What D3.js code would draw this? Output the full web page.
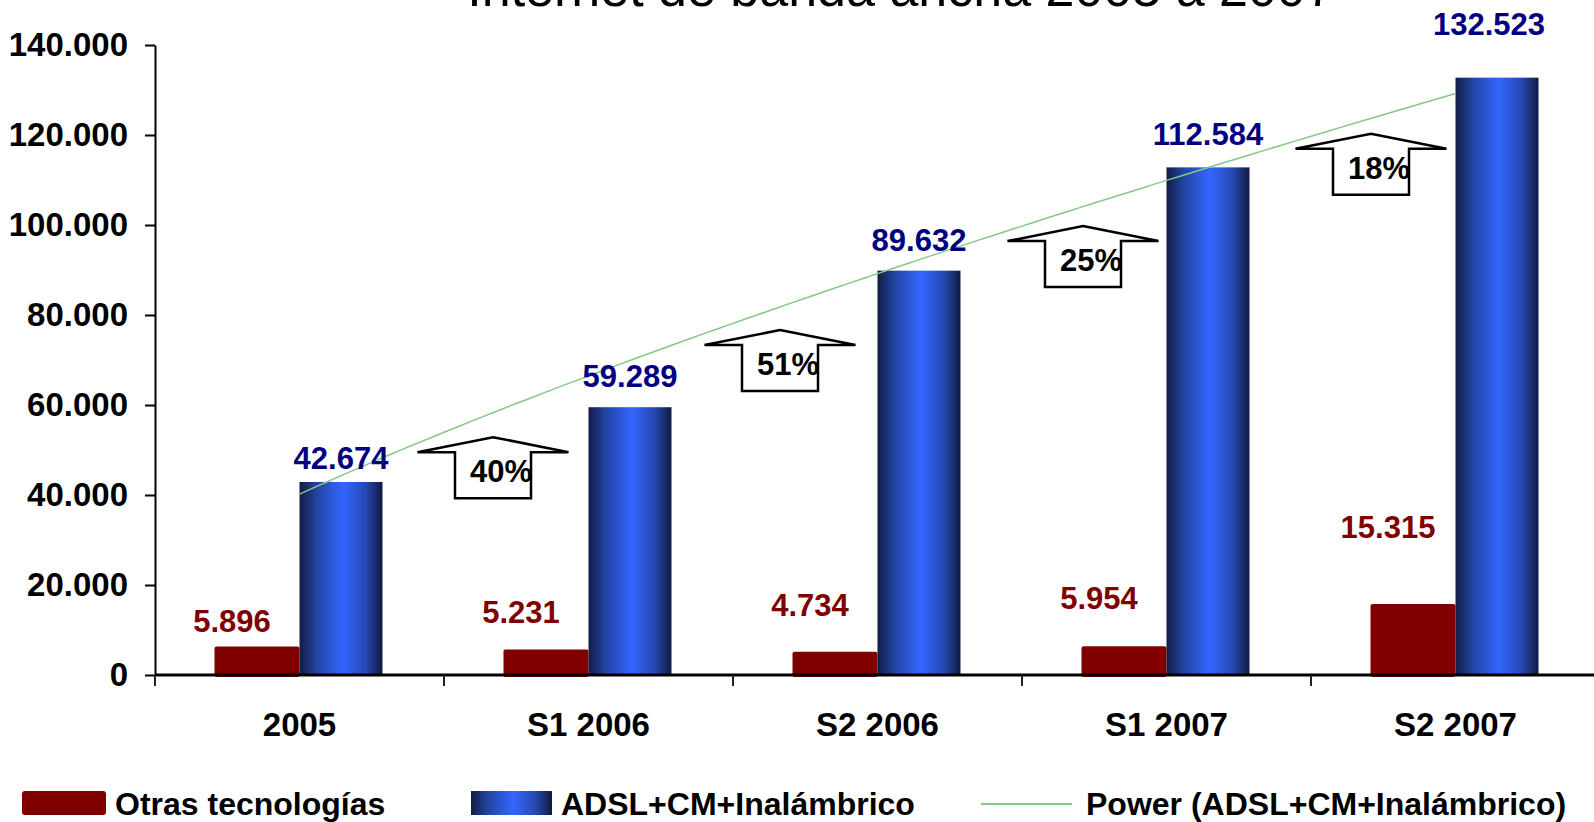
<!DOCTYPE html>
<html>
<head>
<meta charset="utf-8">
<script src="https://cdn.jsdelivr.net/npm/d3@7/dist/d3.min.js"></script>
<style>
  html, body { margin: 0; padding: 0; background: #fff; }
  svg { display: block; font-family: "Liberation Sans", Arial, sans-serif; }
</style>
</head>
<body>
<svg id="chart" width="1594" height="822"></svg>
<script>
// ---------------- DATA ----------------
const title = "Internet de banda ancha 2005 a 2007";
const categories = ["2005", "S1 2006", "S2 2006", "S1 2007", "S2 2007"];
const otrasValues = [5896, 5231, 4734, 5954, 15315];
const adslValues = [42674, 59289, 89632, 112584, 132523];
const seriesNames = ["Otras tecnologías", "ADSL+CM+Inalámbrico", "Power (ADSL+CM+Inalámbrico)"];
const yTicks = [0, 20000, 40000, 60000, 80000, 100000, 120000, 140000];
const growthLabels = ["40%", "51%", "25%", "18%"];

// ---------------- LAYOUT (annotation placement, not data) ----------------
const redLabelDy = [-16, -28, -38, -39, -68];
const blueLabelDy = [-14, -21, -21, -23, -44];
const arrowDx = [49, 47, 61, 60];            // from category boundary
const arrowBaseLevel = [39300, 63100, 86200, 106700]; // y-level of arrow bottom

// ---------------- SETUP ----------------
const svg = d3.select("#chart");
const font = 31;
const locale = d3.formatLocale({ decimal: ",", thousands: ".", grouping: [3], currency: ["", ""] });
const fmt = locale.format(",d");

const x = d3.scaleBand().domain(categories).range([155, 155 + 5 * 289]).padding(0);
const sub = d3.scaleBand().domain(["otras", "adsl"]).range([0, x.bandwidth()]).paddingInner(0).paddingOuter(0.7);
const y = d3.scaleLinear().domain([0, 140000]).range([675, 45]);

// gradient for blue bars
const defs = svg.append("defs");
const grad = defs.append("linearGradient").attr("id", "blueGrad").attr("x1", "0").attr("x2", "1").attr("y1", "0").attr("y2", "0");
grad.append("stop").attr("offset", "0%").attr("stop-color", "#111c45");
grad.append("stop").attr("offset", "20%").attr("stop-color", "#22439f");
grad.append("stop").attr("offset", "52%").attr("stop-color", "#3366ff");
grad.append("stop").attr("offset", "80%").attr("stop-color", "#2548b0");
grad.append("stop").attr("offset", "100%").attr("stop-color", "#101a42");

// title (cut off at the top edge, as in the original)
svg.append("text")
  .attr("x", 901).attr("y", 6)
  .attr("text-anchor", "middle")
  .attr("font-size", 52)
  .attr("fill", "#000")
  .text(title);

// ---------------- TRENDLINE (power fit of ADSL series) ----------------
const lx = adslValues.map((d, i) => Math.log(i + 1));
const ly = adslValues.map(d => Math.log(d));
const mx = d3.mean(lx), my = d3.mean(ly);
const b = d3.sum(lx.map((v, i) => (v - mx) * (ly[i] - my))) / d3.sum(lx.map(v => (v - mx) * (v - mx)));
const a = Math.exp(my - b * mx);
const trendPts = d3.range(1, 5.0001, 0.05).map(t => [t, a * Math.pow(t, b)]);
const xc = t => {
  const c0 = x(categories[0]) + x.bandwidth() / 2;
  return c0 + (t - 1) * x.step();
};

// ---------------- AXES ----------------
const yAxis = d3.axisLeft(y).tickValues(yTicks).tickFormat(fmt).tickSize(10).tickSizeOuter(0).tickPadding(17);
const gy = svg.append("g").attr("transform", "translate(155,0)").call(yAxis);
gy.select(".domain").attr("stroke", "#000").attr("stroke-width", 2);
gy.selectAll(".tick line").attr("stroke", "#000").attr("stroke-width", 2);
gy.selectAll(".tick text").attr("font-size", 33).attr("font-weight", "bold").attr("fill", "#000")
  .attr("font-family", "'Liberation Sans', Arial, sans-serif");

// bars
const g = svg.append("g");
g.selectAll("rect.otras").data(otrasValues).join("rect")
  .attr("class", "otras")
  .attr("x", (d, i) => x(categories[i]) + sub("otras"))
  .attr("y", d => y(d) - 2)
  .attr("width", sub.bandwidth())
  .attr("height", d => y(0) - y(d) + 4)
  .attr("rx", 2)
  .attr("fill", "#800000");

g.selectAll("rect.adsl").data(adslValues).join("rect")
  .attr("class", "adsl")
  .attr("x", (d, i) => x(categories[i]) + sub("adsl"))
  .attr("y", d => y(d) - 1)
  .attr("width", sub.bandwidth() - 2)
  .attr("height", d => y(0) - y(d) + 1)
  .attr("fill", "url(#blueGrad)");

// trendline
svg.append("path")
  .datum(trendPts)
  .attr("d", d3.line().x(d => xc(d[0])).y(d => y(d[1])))
  .attr("fill", "none")
  .attr("stroke", "#84c884")
  .attr("stroke-width", 1.5);

// x axis
svg.append("line")
  .attr("x1", 155).attr("x2", 1594).attr("y1", y(0)).attr("y2", y(0))
  .attr("stroke", "#000").attr("stroke-width", 3);
const boundaries = categories.map(c => x(c)).concat([x(categories[categories.length - 1]) + x.step()]);
svg.selectAll("line.xtick").data(boundaries).join("line")
  .attr("class", "xtick")
  .attr("x1", d => d).attr("x2", d => d)
  .attr("y1", y(0)).attr("y2", y(0) + 11)
  .attr("stroke", "#222").attr("stroke-width", 2);
svg.selectAll("text.cat").data(categories).join("text")
  .attr("class", "cat")
  .attr("x", d => x(d) + x.bandwidth() / 2)
  .attr("y", 736)
  .attr("text-anchor", "middle")
  .attr("font-size", 33).attr("font-weight", "bold")
  .text(d => d);

// value labels
svg.selectAll("text.lblOtras").data(otrasValues).join("text")
  .attr("class", "lblOtras")
  .attr("x", (d, i) => x(categories[i]) + sub("otras") + sub.bandwidth() / 2 - 25)
  .attr("y", (d, i) => y(d) + redLabelDy[i])
  .attr("text-anchor", "middle")
  .attr("font-size", font).attr("font-weight", "bold")
  .attr("fill", "#800000")
  .text(d => fmt(d));

svg.selectAll("text.lblAdsl").data(adslValues).join("text")
  .attr("class", "lblAdsl")
  .attr("x", (d, i) => x(categories[i]) + sub("adsl") + sub.bandwidth() / 2 - (i === 4 ? 9 : 1))
  .attr("y", (d, i) => y(d) + blueLabelDy[i])
  .attr("text-anchor", "middle")
  .attr("font-size", font).attr("font-weight", "bold")
  .attr("fill", "#000080")
  .text(d => fmt(d));

// growth arrows
const arrowW = 151, shaftW = 76, headH = 15, totalH = 61;
growthLabels.forEach((lbl, i) => {
  const cx = x(categories[i + 1]) + arrowDx[i];
  const bottom = y(arrowBaseLevel[i]);
  const top = bottom - totalH;
  const pts = [
    [cx, top],
    [cx + arrowW / 2, top + headH],
    [cx + shaftW / 2, top + headH],
    [cx + shaftW / 2, bottom],
    [cx - shaftW / 2, bottom],
    [cx - shaftW / 2, top + headH],
    [cx - arrowW / 2, top + headH]
  ];
  svg.append("polygon")
    .attr("points", pts.map(p => p.join(",")).join(" "))
    .attr("fill", "#fff")
    .attr("stroke", "#000")
    .attr("stroke-width", 2.5)
    .attr("stroke-linejoin", "miter");
  svg.append("text")
    .attr("x", cx + 8)
    .attr("y", top + 45)
    .attr("text-anchor", "middle")
    .attr("font-size", font).attr("font-weight", "bold")
    .attr("fill", "#000")
    .text(lbl);
});

// legend
const legFont = 32;
const leg = svg.append("g");
leg.append("rect").attr("x", 22).attr("y", 791).attr("width", 84).attr("height", 24).attr("rx", 3).attr("fill", "#800000");
leg.append("text").attr("x", 115).attr("y", 815).attr("font-size", legFont).attr("font-weight", "bold").text(seriesNames[0]);
leg.append("rect").attr("x", 471).attr("y", 791).attr("width", 81).attr("height", 24).attr("fill", "url(#blueGrad)");
leg.append("text").attr("x", 561).attr("y", 815).attr("font-size", legFont).attr("font-weight", "bold").text(seriesNames[1]);
leg.append("line").attr("x1", 981).attr("x2", 1072).attr("y1", 804).attr("y2", 804).attr("stroke", "#84c884").attr("stroke-width", 2);
leg.append("text").attr("x", 1086).attr("y", 815).attr("font-size", legFont).attr("font-weight", "bold").text(seriesNames[2]);
</script>
</body>
</html>
